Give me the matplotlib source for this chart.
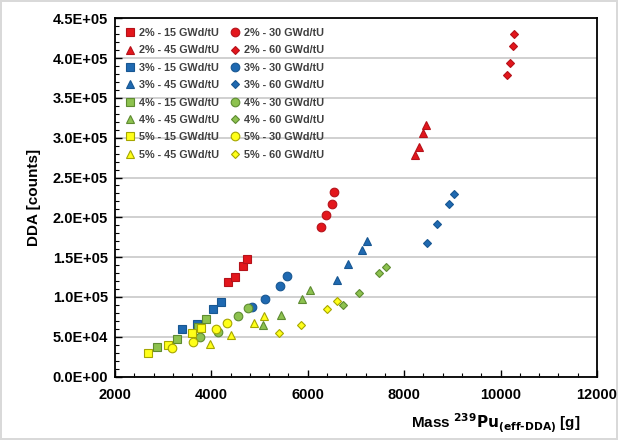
import matplotlib
matplotlib.use("Agg")
import matplotlib.pyplot as plt
from matplotlib.ticker import MultipleLocator, FuncFormatter

# burnups (GWd/tU) and initial enrichments
burnups = [15, 30, 45, 60]
enrichments = ["2%", "3%", "4%", "5%"]

# Mass 239Pu(eff-DDA) [g], one row per burnup (15, 30, 45, 60)
mass_2 = [[4338, 4490, 4662, 4733],
          [6268, 6378, 6509, 6550],
          [8225, 8308, 8397, 8447],
          [10128, 10196, 10265, 10285]]
mass_3 = [[3384, 3695, 4039, 4193],
          [4837, 5113, 5424, 5563],
          [6600, 6829, 7125, 7235],
          [8474, 8688, 8931, 9034]]
mass_4 = [[2865, 3280, 3716, 3888],
          [3763, 4131, 4558, 4753],
          [5077, 5451, 5874, 6046],
          [6725, 7069, 7472, 7623]]
mass_5 = [[2691, 3106, 3604, 3778],
          [3177, 3625, 4102, 4318],
          [3965, 4407, 4890, 5098],
          [5397, 5853, 6393, 6613]]

# DDA [counts]
dda_2 = [[118700, 124600, 139200, 148000],
         [188200, 202500, 216300, 232200],
         [278300, 287900, 306300, 315600],
         [379200, 394200, 415600, 429900]]
dda_3 = [[59300, 65950, 84800, 93970],
         [87700, 97700, 113700, 126600],
         [121200, 141300, 158900, 169900],
         [168100, 191600, 217100, 229300]]
dda_4 = [[37440, 46730, 61800, 71860],
         [50000, 56300, 76000, 86400],
         [64700, 77300, 97000, 108700],
         [89800, 104900, 129700, 137200]]
dda_5 = [[29150, 39570, 54270, 60550],
         [36200, 43700, 59300, 67600],
         [41200, 52100, 66800, 76400],
         [54300, 64300, 84400, 95200]]

masses = [mass_2, mass_3, mass_4, mass_5]
ddas = [dda_2, dda_3, dda_4, dda_5]

# style per enrichment / burnup
fills = ["#E3161C", "#1F69B1", "#8DC24F", "#FFFF19"]
edges = ["#B5121A", "#185792", "#5E8B31", "#A6A600"]
markers = ["s", "o", "^", "D"]
msizes = [5.8, 6.2, 6.0, 4.0]

plt.rcParams['font.family'] = 'Liberation Sans'
plt.rcParams['font.weight'] = 'bold'

fig = plt.figure(figsize=(6.18, 4.40), dpi=100)
fig.patch.set_edgecolor('#d9d9d9')
fig.patch.set_linewidth(1.5)
ax = fig.add_axes([0.186, 0.1443, 0.780, 0.8141])

handles = {}
for e, enr in enumerate(enrichments):
    for b, bu in enumerate(burnups):
        h, = ax.plot(masses[e][b], ddas[e][b], linestyle='none',
                     marker=markers[b], markersize=msizes[b],
                     markerfacecolor=fills[e], markeredgecolor=edges[e],
                     markeredgewidth=0.8, zorder=3,
                     label=f"{enr} - {bu} GWd/tU")
        handles[(e, b)] = h

ax.set_xlim(2000, 12000)
ax.set_ylim(0, 4.5e5)
ax.xaxis.set_major_locator(MultipleLocator(2000))
ax.xaxis.set_minor_locator(MultipleLocator(400))
ax.yaxis.set_major_locator(MultipleLocator(50000))
ax.yaxis.set_minor_locator(MultipleLocator(10000))
ax.yaxis.set_major_formatter(FuncFormatter(lambda v, p: f"{v:.1E}"))

ax.grid(axis='y', which='major', color='#c8c8c8', linewidth=1.2, zorder=0)
ax.set_axisbelow(True)

for s in ax.spines.values():
    s.set_linewidth(1.3)
    s.set_color('black')

ax.tick_params(axis='both', which='both', direction='in', top=False, right=False)
ax.tick_params(axis='both', which='major', length=5, width=1.0, labelsize=10.5)
ax.tick_params(axis='x', which='major', pad=8)
ax.tick_params(axis='y', which='major', pad=5)
ax.tick_params(axis='both', which='minor', length=3, width=0.8)
for lab in ax.get_xticklabels() + ax.get_yticklabels():
    lab.set_fontweight('bold')

ax.set_ylabel("DDA [counts]", fontsize=11, fontweight='bold', labelpad=8)
ax.set_xlabel(r"Mass $\mathbf{^{239}Pu_{(eff\text{-}DDA)}}$ [g]", fontsize=11,
              fontweight='bold')
ax.xaxis.set_label_coords(0.79, -0.095)

# legend: two columns, rows go 15/30 then 45/60 for each enrichment
col1 = [handles[(e, b)] for e in range(4) for b in (0, 2)]
col2 = [handles[(e, b)] for e in range(4) for b in (1, 3)]
leg_h = col1 + col2
leg = ax.legend(handles=leg_h, labels=[h.get_label() for h in leg_h],
                ncol=2, loc='upper left', bbox_to_anchor=(0.0, 1.0),
                frameon=False, handlelength=0.9,
                handletextpad=0.4, columnspacing=1.0, labelspacing=0.68,
                borderaxespad=0.5, prop={'weight': 'bold', 'size': 7.8})
for t in leg.get_texts():
    t.set_color('#404040')

fig.savefig("out.png", dpi=100)
